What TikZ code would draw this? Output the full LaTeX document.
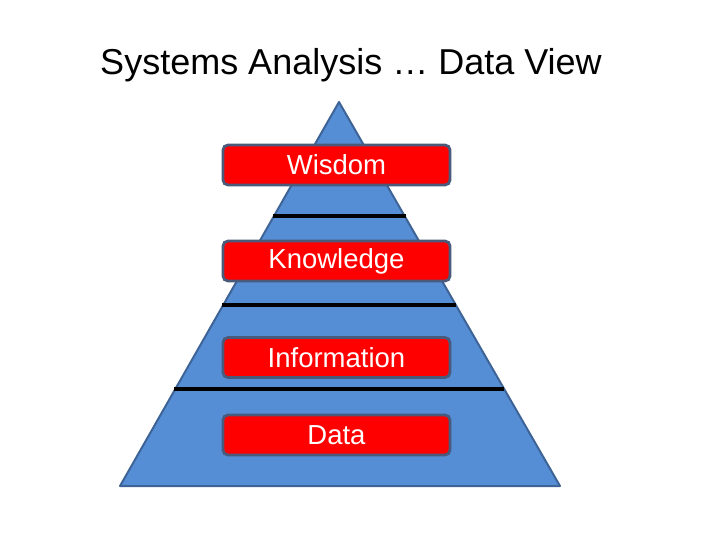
\documentclass[tikz,border=0pt]{standalone}
\usepackage{fontspec}
\setmainfont{Liberation Sans}
\definecolor{pyrblue}{HTML}{558ED5}
\definecolor{pyredge}{HTML}{3E6396}
\definecolor{boxedge}{HTML}{4A5A7A}
\tikzset{
  level/.style={draw=boxedge,line width=2.8pt,fill=red,rounded corners=5pt,
    minimum width=227pt,minimum height=40pt,inner sep=0pt,
    text=white,font=\fontsize{27.5}{32}\selectfont},
  divider/.style={line width=3.2pt,black}
}
\begin{document}
\begin{tikzpicture}[x=1pt,y=-1pt]
  \useasboundingbox (0,0) rectangle (720,540);
  \node[font=\fontsize{36}{42}\selectfont] (title) at (351,65) {Systems Analysis \dots\ Data View};
  \coordinate (apex) at (339,102);
  \coordinate (baseL) at (120,486);
  \coordinate (baseR) at (560,486);
  \filldraw[fill=pyrblue,draw=pyredge,line width=2pt,line join=round] (apex) -- (baseR) -- (baseL) -- cycle;
  \draw[divider] (273,216) -- (406,216);
  \draw[divider] (222,305) -- (456,305);
  \draw[divider] (174,389) -- (504,389);
  \node[level] (wisdom) at (336.5,165) {Wisdom};
  \node[level] (knowledge) at (336.5,261) {Knowledge};
  \node[level] (information) at (336.5,357.5) {Information};
  \node[level] (data) at (336.5,435) {Data};
\end{tikzpicture}
\end{document}
